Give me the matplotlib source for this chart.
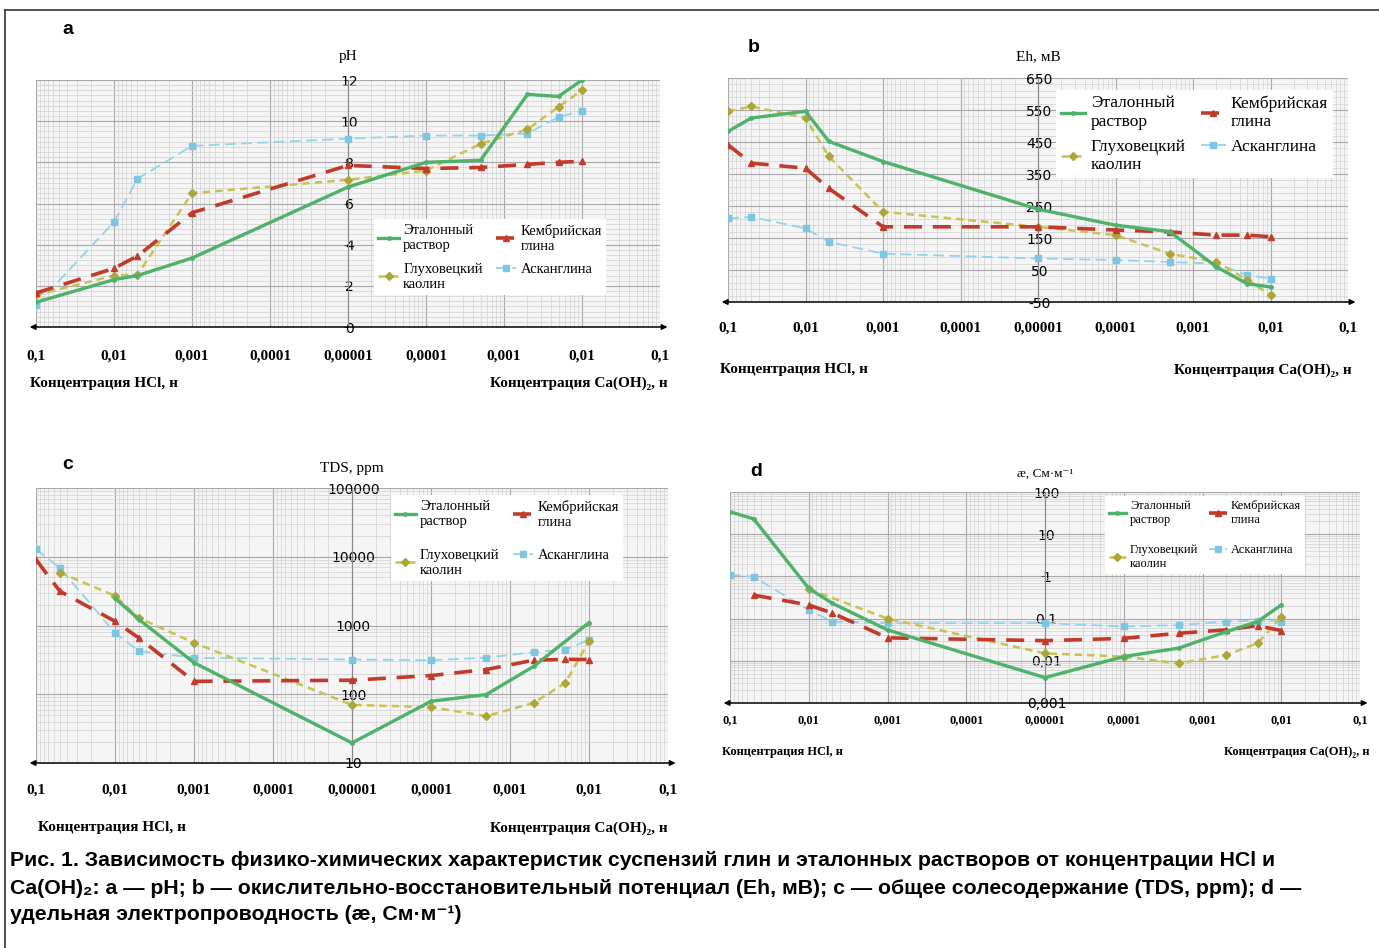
import numpy as np
import matplotlib
matplotlib.use('Agg')
import matplotlib.pyplot as plt
from matplotlib.transforms import blended_transform_factory
from matplotlib.lines import Line2D
from matplotlib.ticker import NullFormatter

# ---------------- data (signed concentration: <0 = HCl, >0 = Ca(OH)2) -------------
x_a = [-0.1, -0.01, -0.005, -0.001, -1e-5, 1e-4, 5e-4, 2e-3, 5e-3, 1e-2]
ph_green = [1.2, 2.3, 2.5, 3.35, 6.8, 8.0, 8.1, 11.3, 11.2, 12.0]
ph_red = [1.65, 2.85, 3.45, 5.55, 7.85, 7.7, 7.75, 7.9, 8.0, 8.05]
ph_yellow = [1.55, 2.5, 2.55, 6.5, 7.15, 7.6, 8.9, 9.6, 10.7, 11.5]
ph_blue = [1.05, 5.1, 7.2, 8.8, 9.15, 9.3, 9.3, 9.4, 10.2, 10.5]

x_b = [-0.1, -0.05, -0.01, -0.005, -0.001, -1e-5, 1e-4, 5e-4, 2e-3, 5e-3, 1e-2]
eh_green = [483, 525, 546, 452, 389, 240, 190, 170, 60, 7, -3]
eh_red = [441, 384, 368, 305, 185, 185, 175, 169, 159, 159, 154]
eh_yellow = [546, 561, 525, 405, 232, 185, 159, 101, 75, 20, -29]
eh_blue = [211, 216, 180, 138, 101, 86, 81, 75, 70, 34, 23]

x_c_green = [-0.01, -0.005, -0.001, -1e-5, 1e-4, 5e-4, 2e-3, 1e-2]
tds_green = [2500, 1230, 288, 19.6, 79, 99, 255, 1100]
x_c_red = [-0.1, -0.05, -0.01, -0.005, -0.001, -1e-5, 1e-4, 5e-4, 2e-3, 5e-3, 1e-2]
tds_red = [9100, 3160, 1150, 660, 154, 160, 187, 229, 313, 322, 320]
x_c_yellow = [-0.05, -0.01, -0.005, -0.001, -1e-5, 1e-4, 5e-4, 2e-3, 5e-3, 1e-2]
tds_yellow = [5900, 2700, 1290, 560, 70, 65, 48, 75, 146, 590]
x_c_blue = [-0.1, -0.05, -0.01, -0.005, -0.001, -1e-5, 1e-4, 5e-4, 2e-3, 5e-3, 1e-2]
tds_blue = [12900, 6900, 780, 425, 340, 320, 313, 340, 410, 445, 620]

x_d_green = [-0.1, -0.05, -0.01, -0.005, -0.001, -1e-5, 1e-4, 5e-4, 2e-3, 5e-3, 1e-2]
k_green = [34, 23, 0.52, 0.23, 0.054, 0.004, 0.0126, 0.02, 0.049, 0.085, 0.21]
x_d_red = [-0.05, -0.01, -0.005, -0.001, -1e-5, 1e-4, 5e-4, 2e-3, 5e-3, 1e-2]
k_red = [0.36, 0.21, 0.135, 0.035, 0.030, 0.034, 0.045, 0.054, 0.068, 0.052]
x_d_yellow = [-0.01, -0.001, -1e-5, 1e-4, 5e-4, 2e-3, 5e-3, 1e-2]
k_yellow = [0.5, 0.1, 0.015, 0.0126, 0.0087, 0.0137, 0.026, 0.11]
x_d_blue = [-0.1, -0.05, -0.01, -0.005, -0.001, -1e-5, 1e-4, 5e-4, 2e-3, 5e-3, 1e-2]
k_blue = [1.1, 0.98, 0.16, 0.085, 0.078, 0.078, 0.065, 0.07, 0.085, 0.09, 0.085]

series_names = ['Эталонный\nраствор', 'Глуховецкий\nкаолин', 'Кембрийская\nглина', 'Асканглина']
x_major = [-0.1, -0.01, -0.001, -1e-4, -1e-5, 1e-4, 1e-3, 1e-2, 1e-1]
x_major_labels = ['0,1', '0,01', '0,001', '0,0001', '0,00001', '0,0001', '0,001', '0,01', '0,1']

# ---------------- helpers ----------------
W, H = 1379, 948
fig = plt.figure(figsize=(W / 100, H / 100), dpi=100)
fig.patch.set_facecolor('white')
SERIF = ['Liberation Serif', 'DejaVu Serif']
SANS = ['Liberation Sans', 'DejaVu Sans']
NARROW = ['Liberation Sans', 'DejaVu Sans']


def fwd(x):
    x = np.asarray(x, dtype=float)
    a = np.abs(x)
    a = np.where(a == 0, 1e-5, a)
    with np.errstate(divide='ignore', invalid='ignore'):
        return np.where(x < 0, -np.log10(a) - 1, 9 + np.log10(a))


def inv(p):
    p = np.asarray(p, dtype=float)
    return np.where(p <= 4, -10.0 ** (-(p + 1)), 10.0 ** (p - 9))


minor_x = []
for n in range(1, 5):
    for k in range(2, 10):
        minor_x.append(-k * 10.0 ** (-(n + 1)))
for m in range(5, 1, -1):
    for k in range(2, 10):
        minor_x.append(k * 10.0 ** (-m))

STY = {
    'green': dict(color='#4fb26a', lw=2.4, ls='-', marker='o', ms=2.5),
    'red': dict(color='#c23b2a', lw=2.6, ls=(0, (5, 3)), marker='^', ms=5),
    'yellow': dict(color='#c9c150', lw=1.8, ls=(0, (3, 2)), marker='D', ms=4.5,
                   mfc='#aba637', mec='#aba637'),
    'blue': dict(color='#93d2ea', lw=1.3, ls=(0, (6, 3)), marker='s', ms=4.5,
                 mfc='#7cc6e2', mec='#7cc6e2'),
}


def P(px, py):
    return px / W, 1 - py / H


def make_axes(rect, ylog, ylim, yticks, yticklabels, yminor, fs, xpad):
    l, t, r, b = rect
    ax = fig.add_axes([l / W, 1 - b / H, (r - l) / W, (b - t) / H])
    ax.set_xscale('function', functions=(fwd, inv))
    if ylog:
        ax.set_yscale('log')
    ax.set_facecolor('#f5f5f5')
    ax.set_xlim(-0.1, 0.1)
    ax.set_ylim(*ylim)
    ax.set_xticks(x_major)
    ax.set_xticklabels(x_major_labels, fontfamily=SERIF, fontsize=fs, fontweight='bold')
    ax.set_xticks(minor_x, minor=True)
    ax.xaxis.set_minor_formatter(NullFormatter())
    ax.set_yticks(yticks)
    ax.set_yticklabels(yticklabels, fontfamily=SERIF, fontsize=fs - 0.5)
    if yminor is not None:
        ax.set_yticks(yminor, minor=True)
    ax.yaxis.set_minor_formatter(NullFormatter())
    ax.grid(which='major', color='#a8a8a8', lw=0.8)
    ax.grid(which='minor', color='#d0d0d0', lw=0.5)
    ax.set_axisbelow(True)
    for s in ['top', 'right', 'bottom']:
        ax.spines[s].set_visible(False)
    ax.spines['left'].set_position(('data', -1e-5))
    ax.spines['left'].set_color('#888888')
    ax.spines['left'].set_linewidth(0.8)
    ax.tick_params(axis='x', which='both', length=0, pad=xpad)
    ax.tick_params(axis='y', which='major', length=3, pad=-4, color='#555555')
    ax.tick_params(axis='y', which='minor', length=0)
    for lab in ax.get_yticklabels():
        lab.set_horizontalalignment('center')
    ax.annotate('', xy=(1.012, 0), xytext=(-0.01, 0), xycoords='axes fraction',
                arrowprops=dict(arrowstyle='<|-|>', color='black', lw=1.1,
                                mutation_scale=8, shrinkA=0, shrinkB=0))
    return ax


def draw(ax, xs, ys, legend_anchor, lfs, lspace):
    hb, = ax.plot(xs[3], ys[3], zorder=3, **STY['blue'])
    hy, = ax.plot(xs[2], ys[2], zorder=4, **STY['yellow'])
    hr, = ax.plot(xs[1], ys[1], zorder=5, **STY['red'])
    hg, = ax.plot(xs[0], ys[0], zorder=6, **STY['green'])
    leg = ax.legend([hg, hy, hr, hb], series_names, ncol=2, loc='upper left',
                    bbox_to_anchor=legend_anchor, frameon=True, facecolor='white',
                    edgecolor='none', framealpha=1, fancybox=False,
                    prop=dict(family=SERIF, size=lfs), handlelength=1.4,
                    handletextpad=0.3, columnspacing=0.9, labelspacing=lspace,
                    borderpad=0.3)
    leg.set_zorder(10)


# ---------------- panel a ----------------
ax_a = make_axes((36, 80, 660, 327), False, (0, 12), [0, 2, 4, 6, 8, 10, 12],
                 ['0', '2', '4', '6', '8', '10', '12'], np.arange(0, 12.01, 0.25), 11, 16)
draw(ax_a, [x_a] * 4, [ph_green, ph_red, ph_yellow, ph_blue], (0.53, 0.465), 10.5, 0.7)

# ---------------- panel b ----------------
ax_b = make_axes((728, 78, 1348, 302), False, (-50, 650), [-50, 50, 150, 250, 350, 450, 550, 650],
                 ['-50', '50', '150', '250', '350', '450', '550', '650'], np.arange(-50, 651, 20), 11, 14)
draw(ax_b, [x_b] * 4, [eh_green, eh_red, eh_yellow, eh_blue], (0.515, 0.985), 12.5, 0.5)

# ---------------- panel c ----------------
ax_c = make_axes((36, 488, 668, 763), True, (10, 100000), [10, 100, 1000, 10000, 100000],
                 ['10', '100', '1000', '10000', '100000'], None, 11, 15)
draw(ax_c, [x_c_green, x_c_red, x_c_yellow, x_c_blue], [tds_green, tds_red, tds_yellow, tds_blue],
     (0.55, 1.0), 10.5, 1.4)

# ---------------- panel d ----------------
ax_d = make_axes((730, 492, 1360, 703), True, (0.001, 100), [0.001, 0.01, 0.1, 1, 10, 100],
                 ['0,001', '0,01', '0,1', '1', '10', '100'], None, 9, 8)
draw(ax_d, [x_d_green, x_d_red, x_d_yellow, x_d_blue], [k_green, k_red, k_yellow, k_blue],
     (0.585, 1.01), 9, 1.5)

# ---------------- texts ----------------
def ftext(px, py, s, **kw):
    x, y = P(px, py)
    fig.text(x, y, s, **kw)

ftext(62, 30, 'a', fontsize=14, fontweight='bold', family=SANS, va='center')
ftext(748, 48, 'b', fontsize=14, fontweight='bold', family=SANS, va='center')
ftext(62, 465, 'c', fontsize=14, fontweight='bold', family=SANS, va='center')
ftext(750, 472, 'd', fontsize=14, fontweight='bold', family=SANS, va='center')

ylab = dict(family=SERIF, ha='center', va='center')
for ax, s, dy, fsz in [(ax_a, 'pH', 1.095, 11), (ax_b, 'Eh, мВ', 1.095, 11),
                       (ax_c, 'TDS, ppm', 1.07, 11), (ax_d, 'æ, См·м⁻¹', 1.085, 9.5)]:
    tr = blended_transform_factory(ax.transData, ax.transAxes)
    ax.text(-1e-5, dy, s, transform=tr, fontsize=fsz, **ylab)

lab = dict(family=SERIF, fontsize=11, fontweight='bold', va='center')
ftext(30, 383, 'Концентрация HCl, н', ha='left', **lab)
ftext(668, 383, 'Концентрация Ca(OH)₂, н', ha='right', **lab)
ftext(720, 370, 'Концентрация HCl, н', ha='left', **lab)
ftext(1352, 370, 'Концентрация Ca(OH)₂, н', ha='right', **lab)
ftext(38, 828, 'Концентрация HCl, н', ha='left', **lab)
ftext(668, 828, 'Концентрация Ca(OH)₂, н', ha='right', **lab)
lab_d = dict(lab)
lab_d['fontsize'] = 9
ftext(722, 752, 'Концентрация HCl, н', ha='left', **lab_d)
ftext(1370, 752, 'Концентрация Ca(OH)₂, н', ha='right', **lab_d)

cap = dict(family=NARROW, fontsize=15.3, fontweight='bold', ha='left', va='center')
ftext(10, 861, 'Рис. 1. Зависимость физико-химических характеристик суспензий глин и эталонных растворов от концентрации HCl и', **cap)
ftext(10, 888, 'Ca(OH)₂: a — pH; b — окислительно-восстановительный потенциал (Eh, мВ); c — общее солесодержание (TDS, ppm); d —', **cap)
ftext(10, 914, 'удельная электропроводность (æ, См·м⁻¹)', **cap)

# frame
fig.add_artist(Line2D([5 / W, 5 / W], [1 - 10 / H, 0], color='#333333', lw=1.2))
fig.add_artist(Line2D([5 / W, 1], [1 - 10 / H, 1 - 10 / H], color='#333333', lw=1.2))

fig.savefig('out.png', dpi=100, facecolor='white')
